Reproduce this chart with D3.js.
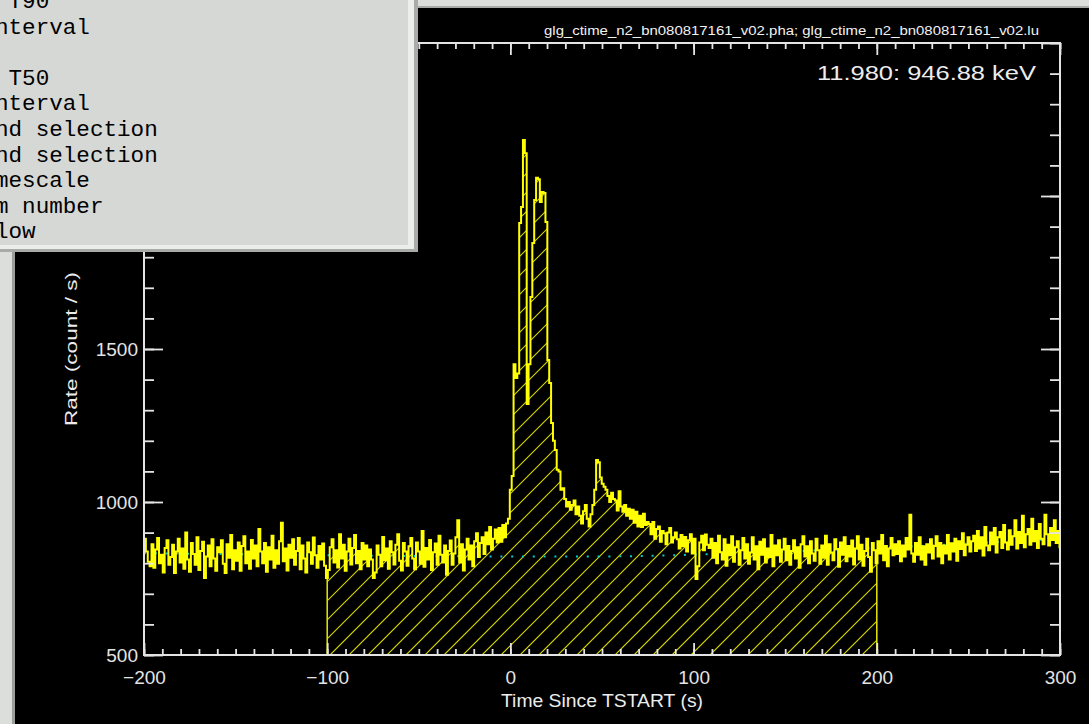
<!DOCTYPE html>
<html>
<head>
<meta charset="utf-8">
<script src="https://cdn.jsdelivr.net/npm/d3@7"></script>
<style>
  body { margin: 0; background: #000; overflow: hidden; }
</style>
</head>
<body>
<svg id="canvas"></svg>
<script>
// Light curve: count rate per bin, bins start at binStart and are binWidth seconds wide
const binStart = -200;
const binWidth = 1.024;
const rates = [
  880, 838, 805, 790, 862, 785, 845, 882, 800, 828, 770, 850, 875, 795, 820, 860, 768, 838, 880, 802,
  848, 782, 900, 812, 772, 866, 830, 795, 885, 778, 840, 870, 752, 822, 858, 790, 878, 815, 775, 852,
  836, 875, 798, 768, 862, 818, 892, 780, 842, 808, 868, 775, 856, 888, 800, 838, 782, 876, 815, 858,
  790, 912, 838, 800, 866, 772, 852, 812, 890, 785, 842, 798, 872, 932, 806, 848, 776, 860, 818, 878,
  795, 840, 882, 780, 858, 815, 770, 868, 836, 798, 884, 826, 785, 856, 812, 864, 792, 752, 778, 852,
  878, 802, 842, 786, 895, 815, 860, 775, 838, 880, 796, 850, 892, 800, 840, 780, 866, 812, 858, 790,
  845, 812, 752, 770, 858, 828, 790, 886, 810, 848, 782, 872, 836, 796, 860, 895, 808, 776, 866, 838,
  792, 855, 882, 815, 780, 868, 838, 798, 905, 788, 850, 812, 876, 778, 836, 864, 795, 890, 828, 802,
  858, 762, 840, 874, 795, 832, 885, 940, 802, 862, 776, 845, 880, 812, 858, 790, 872, 898, 820, 866,
  885, 830, 900, 862, 918, 845, 880, 910, 868, 915, 870, 925, 885, 930, 945,
  1040, 1085, 1450, 1405, 1420, 1912, 1964, 2183, 2140, 1320, 1450, 1670, 1846, 1987, 2060, 2055, 1980, 2013, 2010, 1915,
  1464, 1389, 1258, 1200, 1170, 1105, 1100, 1040, 1045,
  1010, 985, 1000, 975, 990, 1005, 960, 985, 955, 930, 970, 990, 945, 920, 960, 990, 1040,
  1137, 1130, 1080, 1060, 1050, 1040, 1020, 1000, 1030, 1010,
  1005, 972, 1035, 985, 968, 990, 955, 978, 945, 975, 932, 968, 920, 955, 918, 962, 925, 935,
  928, 895, 935, 880, 912, 920, 870, 905, 898, 862, 900, 915, 868, 885, 900,
  878, 848, 892, 855, 886, 838, 875, 895, 832, 880, 748, 790, 868, 890, 842, 894, 860,
  850, 880, 818, 866, 800, 890, 836, 812, 878, 792, 860, 826, 888, 805, 852, 872, 795, 842, 882, 815,
  862, 798, 835, 885, 812, 855, 780, 870, 828, 878, 802, 848, 820, 892, 790, 858, 826, 875, 805, 845,
  880, 810, 856, 795, 840, 875, 815, 852, 785, 862, 888, 822, 855, 800, 872, 832, 808, 880, 842, 798,
  858, 818, 890, 795, 862, 835, 810, 878, 846, 788, 868, 828, 885, 806, 856, 822, 874, 796, 848, 888,
  812, 860, 792, 840, 880, 820, 772, 866, 842, 800, 872, 832, 892, 810, 856, 790, 848, 882, 826, 862,
  830, 872, 806, 858, 822, 882, 845, 958, 832, 805, 866, 828, 885, 812, 855, 795, 862, 835, 878, 815,
  856, 888, 822, 866, 800, 858, 832, 892, 812, 865, 838, 880, 808, 872, 846, 898, 826, 860, 885, 838,
  872, 890, 840, 905, 848, 885, 825, 918, 858, 842, 900, 862, 915, 835, 885, 902, 850, 925, 868, 845,
  908, 860, 888, 940, 848, 902, 866, 955, 852, 895, 912, 860, 945, 872, 905, 850, 928, 880, 862, 958,
  895, 858, 915, 876, 940, 866, 905, 852
];

// Background model (cyan dotted line)
const bgTimes = [-200, -100, 0, 50, 100, 150, 200, 250, 300];
const bgRates = [833, 826, 822, 822, 828, 838, 850, 864, 880];

// Selected source interval (hatched)
const selInterval = [-100, 200];

// Axes
const xDomain = [-200, 300];
const yDomain = [500, 2500];
const xTickValues = [-200, -100, 0, 100, 200, 300];
const yTickValues = [500, 1000, 1500, 2000, 2500];

// Texts
const plotTitle = "glg_ctime_n2_bn080817161_v02.pha; glg_ctime_n2_bn080817161_v02.lu";
const energyLabel = "11.980: 946.88 keV";
const xLabel = "Time Since TSTART (s)";
const yLabel = "Rate (count / s)";
const menuLines = [" T90", "nterval", "", " T50", "nterval", "nd selection", "nd selection", "mescale", "m number", "low"];

const width = 1089, height = 724;
const plotLeft = 144, plotRight = 1060, plotTop = 43, plotBottom = 655;
const axisColor = "#e4e4e4";
const textFont = "'Liberation Sans', Arial, sans-serif";

const svg = d3.select("#canvas").attr("width", width).attr("height", height);

// window background + frame
svg.append("rect").attr("width", width).attr("height", height).attr("fill", "#000");
svg.append("rect").attr("x", 0).attr("y", 0).attr("width", width).attr("height", 8).attr("fill", "#dcdedc");
svg.append("rect").attr("x", 0).attr("y", 6).attr("width", width).attr("height", 2).attr("fill", "#a8aaa8");
svg.append("rect").attr("x", 0).attr("y", 0).attr("width", 15).attr("height", height).attr("fill", "#dcdedc");
svg.append("rect").attr("x", 12).attr("y", 6).attr("width", 3).attr("height", height).attr("fill", "#9c9e9c");

const x = d3.scaleLinear().domain(xDomain).range([plotLeft, plotRight]);
const y = d3.scaleLinear().domain(yDomain).range([plotBottom, plotTop]);

const defs = svg.append("defs");
defs.append("clipPath").attr("id", "plotClip")
  .append("rect").attr("x", plotLeft).attr("y", plotTop)
  .attr("width", plotRight - plotLeft).attr("height", plotBottom - plotTop);

// step points
const pts = rates.map((v, i) => [binStart + i * binWidth, v]);
pts.push([binStart + rates.length * binWidth, rates[rates.length - 1]]);
const valueAt = (t) => rates[Math.min(rates.length - 1, Math.floor((t - binStart) / binWidth))];

// selected interval polygon
const selPts = [[selInterval[0], valueAt(selInterval[0])]];
pts.forEach(p => { if (p[0] > selInterval[0] && p[0] < selInterval[1]) selPts.push(p); });
selPts.push([selInterval[1], selPts[selPts.length - 1][1]]);

const area = d3.area()
  .x(d => x(d[0])).y0(y(yDomain[0])).y1(d => y(d[1]))
  .curve(d3.curveStepAfter);
defs.append("clipPath").attr("id", "selClip")
  .append("path").attr("d", area(selPts));

// hatch lines at 45 degrees
const hatchStep = 19;
const hatchG = svg.append("g").attr("clip-path", "url(#selClip)");
const plotH = plotBottom - plotTop;
for (let x0 = 330 - 40 * hatchStep; x0 < plotRight; x0 += hatchStep) {
  hatchG.append("line")
    .attr("x1", x0).attr("y1", plotBottom)
    .attr("x2", x0 + plotH).attr("y2", plotTop)
    .attr("stroke", "#d8d800").attr("stroke-width", 1.1);
}

// background model
const bgLine = d3.line().x((d, i) => x(bgTimes[i])).y(d => y(d)).curve(d3.curveMonotoneX);
svg.append("path")
  .attr("d", bgLine(bgRates))
  .attr("clip-path", "url(#plotClip)")
  .attr("fill", "none").attr("stroke", "#00cccc").attr("stroke-width", 2)
  .attr("stroke-dasharray", "2 8.8");

// interval edges
selInterval.forEach(t => {
  svg.append("line")
    .attr("x1", x(t)).attr("x2", x(t))
    .attr("y1", y(yDomain[0])).attr("y2", y(valueAt(t === selInterval[1] ? t - binWidth / 2 : t)))
    .attr("stroke", "#e8e800").attr("stroke-width", 1.5);
});

// light curve
const stepLine = d3.line().x(d => x(d[0])).y(d => y(d[1])).curve(d3.curveStepAfter);
svg.append("path")
  .attr("d", stepLine(pts))
  .attr("clip-path", "url(#plotClip)")
  .attr("fill", "none").attr("stroke", "#ffff00").attr("stroke-width", 2)
  .attr("stroke-linejoin", "miter");

// axes
const styleAxis = (g) => {
  g.attr("color", axisColor);
  g.select(".domain").remove();
  g.selectAll(".tick line").attr("stroke-width", 1.8);
  g.selectAll("text").attr("font-family", textFont).attr("font-size", 19).attr("fill", axisColor);
};
const minorX = d3.range(xDomain[0], xDomain[1] + 1, 10);
const minorY = d3.range(yDomain[0], yDomain[1] + 1, 100);
svg.append("g").attr("transform", `translate(0,${plotBottom})`)
  .call(d3.axisBottom(x).tickValues(xTickValues).tickSize(-12).tickPadding(16)).call(styleAxis);
svg.append("g").attr("transform", `translate(0,${plotBottom})`)
  .call(d3.axisBottom(x).tickValues(minorX).tickSize(-6).tickFormat("")).call(styleAxis);
svg.append("g").attr("transform", `translate(0,${plotTop})`)
  .call(d3.axisTop(x).tickValues(xTickValues).tickSize(-12).tickFormat("")).call(styleAxis);
svg.append("g").attr("transform", `translate(0,${plotTop})`)
  .call(d3.axisTop(x).tickValues(minorX).tickSize(-6).tickFormat("")).call(styleAxis);
svg.append("g").attr("transform", `translate(${plotLeft},0)`)
  .call(d3.axisLeft(y).tickValues(yTickValues).tickSize(-19).tickPadding(6).tickFormat(d3.format("d"))).call(styleAxis);
svg.append("g").attr("transform", `translate(${plotLeft},0)`)
  .call(d3.axisLeft(y).tickValues(minorY).tickSize(-10).tickFormat("")).call(styleAxis);
svg.append("g").attr("transform", `translate(${plotRight},0)`)
  .call(d3.axisRight(y).tickValues(yTickValues).tickSize(-19).tickFormat("")).call(styleAxis);
svg.append("g").attr("transform", `translate(${plotRight},0)`)
  .call(d3.axisRight(y).tickValues(minorY).tickSize(-10).tickFormat("")).call(styleAxis);

svg.append("rect")
  .attr("x", plotLeft).attr("y", plotTop)
  .attr("width", plotRight - plotLeft).attr("height", plotBottom - plotTop)
  .attr("fill", "none").attr("stroke", axisColor).attr("stroke-width", 2);

// labels
svg.append("text").attr("x", 1039).attr("y", 35)
  .attr("text-anchor", "end").attr("font-family", textFont).attr("font-size", 12)
  .attr("textLength", 495).attr("lengthAdjust", "spacingAndGlyphs")
  .attr("fill", "#f2f2f2").text(plotTitle);
svg.append("text").attr("x", 1036).attr("y", 80)
  .attr("text-anchor", "end").attr("font-family", textFont).attr("font-size", 20)
  .attr("textLength", 219).attr("lengthAdjust", "spacingAndGlyphs")
  .attr("fill", "#ececec").text(energyLabel);
svg.append("text").attr("x", (plotLeft + plotRight) / 2).attr("y", 707)
  .attr("text-anchor", "middle").attr("font-family", textFont).attr("font-size", 18)
  .attr("textLength", 202).attr("lengthAdjust", "spacingAndGlyphs")
  .attr("fill", "#ececec").text(xLabel);
svg.append("text").attr("transform", `translate(77,${(plotTop + plotBottom) / 2}) rotate(-90)`)
  .attr("text-anchor", "middle").attr("font-family", textFont).attr("font-size", 17)
  .attr("textLength", 154).attr("lengthAdjust", "spacingAndGlyphs")
  .attr("fill", "#ececec").text(yLabel);

// popup menu panel (upper left), drawn over the plot
const menu = svg.append("g");
menu.append("rect").attr("x", 0).attr("y", 0).attr("width", 418).attr("height", 252).attr("fill", "#a9aba9");
menu.append("rect").attr("x", 0).attr("y", 0).attr("width", 414).attr("height", 249).attr("fill", "#eceeec");
menu.append("rect").attr("x", 0).attr("y", 0).attr("width", 408).attr("height", 245).attr("fill", "#d6d8d6");
menu.selectAll("text.item").data(menuLines).enter().append("text")
  .attr("class", "item")
  .attr("x", -5).attr("y", (d, i) => 8 + i * 25.6)
  .attr("font-family", "'Liberation Mono', 'DejaVu Sans Mono', monospace")
  .attr("font-size", 22.6).attr("fill", "#000")
  .attr("xml:space", "preserve").style("white-space", "pre")
  .text(d => d);
</script>
</body>
</html>
